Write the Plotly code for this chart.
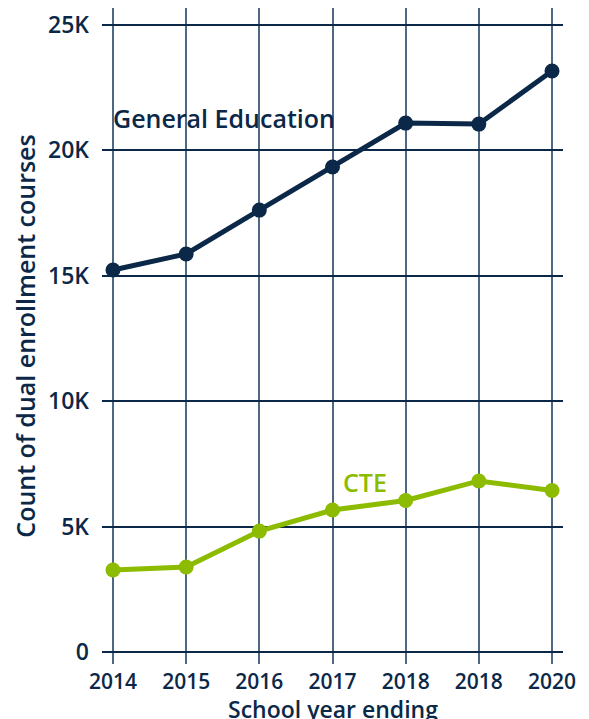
import plotly.graph_objects as go

years = ["2014", "2015", "2016", "2017", "2018", "2018 ", "2020"]
year_labels = ["2014", "2015", "2016", "2017", "2018", "2018", "2020"]
general_ed = [15230, 15870, 17620, 19340, 21090, 21050, 23170]
cte = [3270, 3390, 4820, 5660, 6040, 6820, 6440]
y_ticks = [0, 5000, 10000, 15000, 20000, 25000]
y_tick_labels = ["0", "5K", "10K", "15K", "20K", "25K"]

NAVY = "#0b2848"
GREEN = "#8cbb00"
FONT = "Open Sans"

fig = go.Figure()
fig.add_trace(go.Scatter(x=list(range(len(years))), y=general_ed, mode="lines+markers",
                         line=dict(color=NAVY, width=5), marker=dict(size=15, color=NAVY),
                         showlegend=False))
fig.add_trace(go.Scatter(x=list(range(len(years))), y=cte, mode="lines+markers",
                         line=dict(color=GREEN, width=5), marker=dict(size=15, color=GREEN),
                         showlegend=False))

fig.add_annotation(x=0, y=21300, text="General Education", showarrow=False,
                   xanchor="left", yanchor="middle", xref="x", yref="y", xshift=-2,
                   font=dict(family=FONT, size=25, color=NAVY, weight=600))
fig.add_annotation(x=3.16, y=6780, text="CTE", showarrow=False,
                   xanchor="left", yanchor="middle", xref="x", yref="y", xshift=-3,
                   font=dict(family=FONT, size=25, color=GREEN, weight=600))
# x-axis title (placed as paper annotation so it sits where the reference has it)
fig.add_annotation(x=0.5, y=0, xref="paper", yref="paper", text="School year ending",
                   showarrow=False, xanchor="center", yanchor="top", yshift=-27,
                   font=dict(family=FONT, size=23, color=NAVY, weight=600))

# page body has an 8px default margin, so the figure is sized to fit the window
fig.update_layout(
    width=581, height=711,
    margin=dict(l=94, r=26, t=0, b=55),
    plot_bgcolor="white", paper_bgcolor="white",
    font=dict(family=FONT, color=NAVY),
    xaxis=dict(range=[-0.15, 6.15], tickmode="array", automargin=False,
               tickvals=list(range(len(years))), ticktext=year_labels,
               showgrid=True, gridcolor="#4d6884", gridwidth=1.5,
               zeroline=False, showline=False, ticks="", ticklabelstandoff=3,
               tickfont=dict(size=21, color=NAVY, family=FONT, weight=600)),
    yaxis=dict(range=[-480, 25680], tickmode="array", tickvals=y_ticks, automargin=False,
               ticktext=y_tick_labels, showgrid=True, gridcolor=NAVY, gridwidth=1.5,
               zeroline=True, zerolinecolor=NAVY, zerolinewidth=1.5,
               showline=False, ticks="", ticklabelstandoff=12,
               tickfont=dict(size=23, color=NAVY, family=FONT, weight=600),
               title=dict(text="Count of dual enrollment courses", standoff=14,
                          font=dict(size=25, color=NAVY, family=FONT, weight=600))),
)

fig.write_html("out.html")
